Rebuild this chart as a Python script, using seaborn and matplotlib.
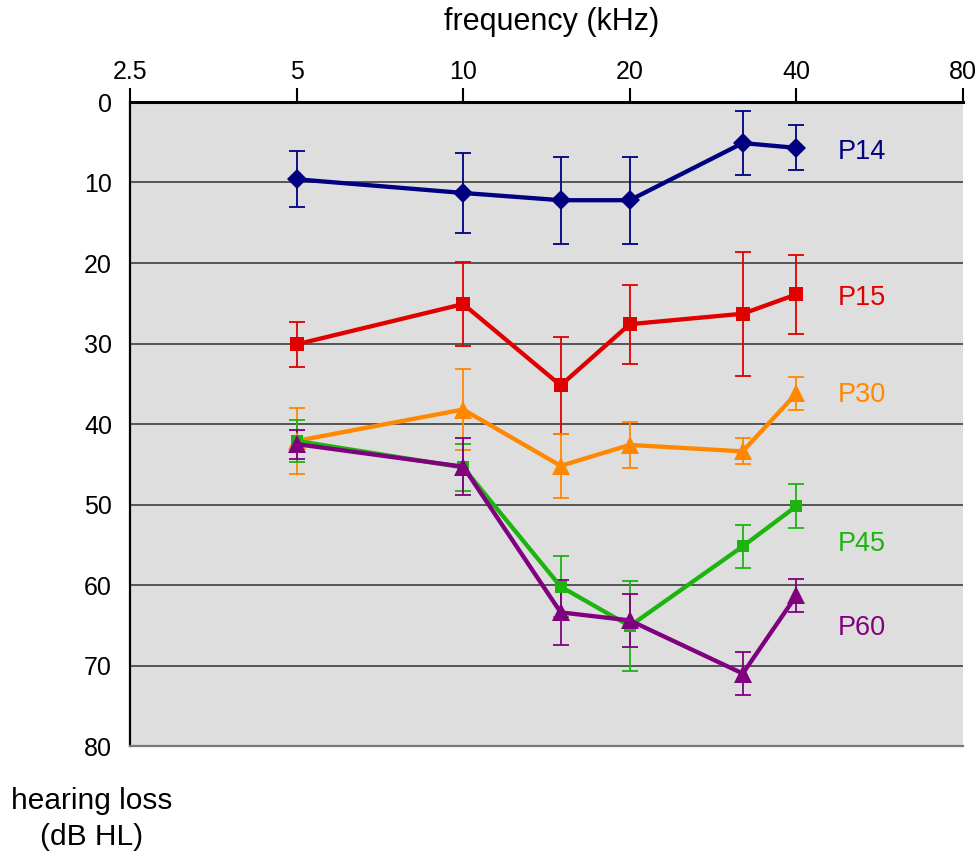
import matplotlib
matplotlib.use("Agg")
import matplotlib.pyplot as plt
import seaborn as sns
import numpy as np
import pandas as pd

# ---- data ----
freq_khz = [5, 10, 15, 20, 32, 40]
x_ticks = [2.5, 5, 10, 20, 40, 80]
x_tick_labels = ["2.5", "5", "10", "20", "40", "80"]
y_ticks = [0, 10, 20, 30, 40, 50, 60, 70, 80]

series_names = ["P14", "P15", "P30", "P45", "P60"]
p14_mean = [9.6, 11.3, 12.2, 12.2, 5.1, 5.7]
p14_err = [3.5, 5.0, 5.4, 5.4, 4.0, 2.8]
p15_mean = [30.1, 25.1, 35.2, 27.6, 26.3, 23.9]
p15_err = [2.8, 5.2, 6.0, 4.9, 7.7, 4.9]
p30_mean = [42.1, 38.2, 45.2, 42.6, 43.4, 36.2]
p30_err = [4.1, 5.0, 4.0, 2.9, 1.6, 2.1]
p45_mean = [42.1, 45.4, 60.2, 65.1, 55.2, 50.2]
p45_err = [2.6, 2.9, 3.8, 5.6, 2.7, 2.7]
p60_mean = [42.5, 45.3, 63.4, 64.4, 71.0, 61.3]
p60_err = [1.8, 3.5, 4.0, 3.3, 2.7, 2.0]
label_y = [6.2, 24.3, 36.4, 54.9, 65.3]

means = [p14_mean, p15_mean, p30_mean, p45_mean, p60_mean]
errs = [p14_err, p15_err, p30_err, p45_err, p60_err]
colors = ["#000080", "#E00000", "#FF8800", "#1DB40F", "#800080"]
markers = ["D", "s", "^", "s", "^"]
msizes = [10.5, 10.5, 13.5, 8.8, 13.5]

sns.set_style("white")
plt.rcParams["font.family"] = ["Liberation Sans", "DejaVu Sans"]
plt.rcParams["text.color"] = "black"

fig = plt.figure(figsize=(9.8, 8.55), dpi=100)
ax = fig.add_axes([130 / 980, 1 - 746 / 855, (963 - 130) / 980, (746 - 102) / 855])
ax.set_facecolor("#DEDEDE")

for name, m, e, c, mk, ms in zip(series_names, means, errs, colors, markers, msizes):
    df = pd.DataFrame({"freq": freq_khz, "loss": m})
    ax.errorbar(freq_khz, m, yerr=e, fmt="none", ecolor=c, elinewidth=1.3,
                capsize=6, capthick=1.3, zorder=3)
    sns.lineplot(data=df, x="freq", y="loss", ax=ax, color=c, linewidth=3.1,
                 marker=mk, markersize=ms, markeredgewidth=0, zorder=4)

for name, ly, c in zip(series_names, label_y, colors):
    ax.text(47.6, ly, name, color=c, fontsize=19.5, ha="left", va="center")

ax.set_xscale("log", base=2)
ax.set_xlim(2.5, 80)
ax.set_ylim(80, 0)
ax.set_xticks(x_ticks)
ax.set_xticklabels(x_tick_labels)
ax.minorticks_off()
ax.set_yticks(y_ticks)
ax.xaxis.tick_top()
ax.tick_params(axis="x", which="major", direction="out", length=10, width=1.5,
               labelsize=18, pad=3, colors="black", labelcolor="black")
ax.tick_params(axis="y", which="major", direction="out", length=9, width=1.5,
               labelsize=18, pad=4, colors="black", labelcolor="black")
ax.set_xlabel("")
ax.set_ylabel("")

for v in range(10, 80, 10):
    ax.axhline(v, color="#303030", linewidth=1.1, zorder=1)

ax.spines["top"].set_color("black")
ax.spines["top"].set_linewidth(2.2)
ax.spines["left"].set_color("black")
ax.spines["left"].set_linewidth(1.6)
ax.spines["bottom"].set_color("#777777")
ax.spines["bottom"].set_linewidth(1.6)
ax.spines["right"].set_visible(False)

fig.text(552 / 980, 1 - 22 / 855, "frequency (kHz)", fontsize=22, ha="center",
         va="center", color="black")
fig.text(92 / 980, 1 - 819 / 855, "hearing loss\n(dB HL)", fontsize=21.5, ha="center",
         va="center", linespacing=1.32, color="black")

fig.savefig("out.png", dpi=100)
